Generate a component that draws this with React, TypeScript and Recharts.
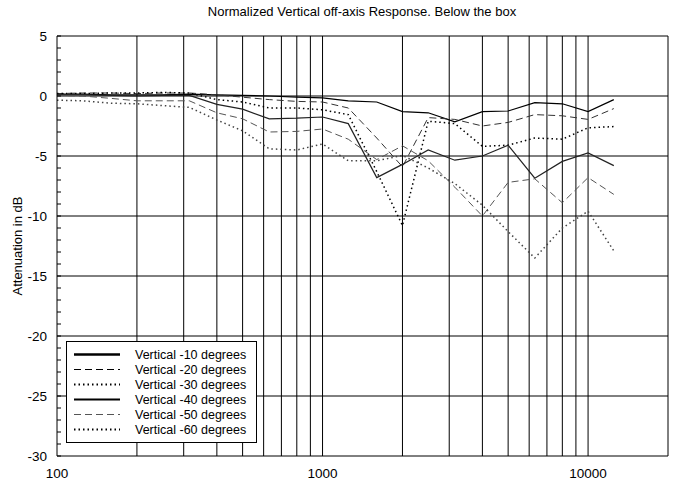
import { LineChart, Line, XAxis, YAxis, ReferenceLine } from "recharts";

const freqs = [100, 125, 160, 200, 250, 315, 400, 500, 630, 800, 1000, 1250, 1600, 2000, 2500, 3150, 4000, 5000, 6300, 8000, 10000, 12500];

const deg10 = [0.15, 0.15, 0.1, 0.1, 0.1, 0.15, 0.1, 0.05, 0.0, -0.1, -0.15, -0.4, -0.5, -1.3, -1.4, -2.15, -1.3, -1.25, -0.55, -0.65, -1.3, -0.3];
const deg20 = [0.2, 0.25, 0.25, 0.2, 0.25, 0.25, 0.1, -0.1, -0.3, -0.45, -0.5, -1.0, -3.5, -5.9, -1.8, -1.95, -2.5, -2.2, -1.55, -1.65, -1.95, -1.05];
const deg30 = [0.2, 0.2, 0.25, 0.25, 0.3, 0.25, -0.3, -0.5, -1.0, -1.0, -1.15, -1.55, -6.3, -10.8, -2.1, -2.3, -4.2, -4.1, -3.5, -3.6, -2.65, -2.55];
const deg40 = [0.1, 0.1, 0.05, 0.0, 0.05, 0.05, -0.7, -1.1, -1.9, -1.85, -1.75, -2.3, -6.8, -5.7, -4.5, -5.35, -5.0, -4.1, -6.85, -5.45, -4.75, -5.8];
const deg50 = [0.05, 0.0, -0.2, -0.4, -0.4, -0.4, -1.4, -1.9, -3.0, -2.95, -2.75, -3.6, -5.3, -4.15, -5.4, -7.6, -10.0, -7.2, -6.9, -8.9, -6.8, -8.2];
const deg60 = [-0.35, -0.4, -0.6, -0.65, -0.8, -0.95, -2.0, -2.9, -4.4, -4.5, -4.0, -5.4, -5.4, -4.95, -6.0, -7.3, -9.1, -11.3, -13.5, -11.0, -9.6, -12.9];

const xLabels = [100, 1000, 10000];
const xGrid = [200, 300, 400, 500, 600, 700, 800, 900, 1000, 2000, 3000, 4000, 5000, 6000, 7000, 8000, 9000, 10000];
const yGrid = [0, -5, -10, -15, -20, -25];
const yTicks = [5, 4, 3, 2, 1, 0, -1, -2, -3, -4, -5, -6, -7, -8, -9, -10, -11, -12, -13, -14, -15, -16, -17, -18, -19, -20, -21, -22, -23, -24, -25, -26, -27, -28, -29, -30];

const series = [
  { key: "s10", name: "Vertical -10 degrees", values: deg10, stroke: "#000", width: 1.2, dash: undefined, legendWidth: 2.5 },
  { key: "s20", name: "Vertical -20 degrees", values: deg20, stroke: "#333", width: 1, dash: "7 4", legendWidth: 1 },
  { key: "s30", name: "Vertical -30 degrees", values: deg30, stroke: "#000", width: 1.5, dash: "1.5 3", legendWidth: 2 },
  { key: "s40", name: "Vertical -40 degrees", values: deg40, stroke: "#222", width: 1.2, dash: undefined, legendWidth: 2 },
  { key: "s50", name: "Vertical -50 degrees", values: deg50, stroke: "#555", width: 1, dash: "7 4", legendWidth: 1 },
  { key: "s60", name: "Vertical -60 degrees", values: deg60, stroke: "#444", width: 1.5, dash: "1.5 3", legendWidth: 2 },
];

const rows = freqs.map((f, i) => {
  const r: Record<string, number> = { f };
  series.forEach((s) => (r[s.key] = s.values[i]));
  return r;
});

const font = "'Liberation Sans', Arial, sans-serif";

function YTick(props: any) {
  const { x, y, payload } = props;
  const v = payload.value as number;
  return (
    <g>
      <line x1={x + 10} x2={x + 14} y1={y} y2={y} stroke="#000" strokeWidth={1} />
      {v % 5 === 0 && (
        <text x={x} y={y} dy={4.5} textAnchor="end" fontSize={13.5} fill="#000" fontFamily={font}>
          {v}
        </text>
      )}
    </g>
  );
}

export default function App() {
  return (
    <div style={{ position: "relative", width: 675, height: 485, background: "#fff", fontFamily: font }}>
      <style>{`body{margin:0}`}</style>
      <LineChart width={675} height={485} data={rows} margin={{ top: 36, right: 7, bottom: 0, left: 0 }}>
        {xGrid.map((v) => (
          <ReferenceLine key={"x" + v} x={v} stroke="#000" strokeWidth={1} />
        ))}
        {yGrid.map((v) => (
          <ReferenceLine key={"y" + v} y={v} stroke="#000" strokeWidth={1} />
        ))}
        <ReferenceLine y={5} stroke="#000" strokeWidth={1} />
        <ReferenceLine x={20000} stroke="#000" strokeWidth={1} />
        <XAxis
          dataKey="f"
          type="number"
          scale="log"
          domain={[100, 20000]}
          allowDataOverflow
          ticks={xLabels}
          tickLine={false}
          tickMargin={6}
          axisLine={{ stroke: "#000" }}
          height={29}
          tick={{ fontSize: 13.5, fill: "#000", fontFamily: font }}
        />
        <YAxis
          type="number"
          domain={[-30, 5]}
          ticks={yTicks}
          interval={0}
          width={57}
          tickLine={false}
          tickSize={8}
          tickMargin={2}
          axisLine={{ stroke: "#000" }}
          tick={<YTick />}
          label={{ value: "Attenuation in dB", angle: -90, position: "insideLeft", offset: 17, style: { fontSize: 13, fill: "#000", fontFamily: font, textAnchor: "middle" } }}
        />
        {series.map((s) => (
          <Line
            key={s.key}
            dataKey={s.key}
            type="linear"
            stroke={s.stroke}
            strokeWidth={s.width}
            strokeDasharray={s.dash}
            dot={false}
            isAnimationActive={false}
          />
        ))}
      </LineChart>
      <div style={{ position: "absolute", left: 0, top: 4, width: 724, textAlign: "center", fontSize: 13, color: "#000" }}>
        Normalized Vertical off-axis Response. Below the box
      </div>
      <div style={{ position: "absolute", left: 66, top: 341, width: 191, height: 102, background: "#fff", border: "1px solid #000", boxSizing: "border-box" }}>
        {series.map((s, i) => (
          <div key={s.key} style={{ position: "absolute", left: 0, top: 5 + i * 15, height: 15, display: "flex", alignItems: "center" }}>
            <svg width={64} height={15}>
              <line x1={7} x2={53} y1={7.5} y2={7.5} stroke={s.stroke === "#555" ? "#555" : "#000"} strokeWidth={s.legendWidth} strokeDasharray={s.dash} />
            </svg>
            <span style={{ fontSize: 12.5, whiteSpace: "nowrap", marginLeft: 4 }}>{s.name}</span>
          </div>
        ))}
      </div>
    </div>
  );
}
